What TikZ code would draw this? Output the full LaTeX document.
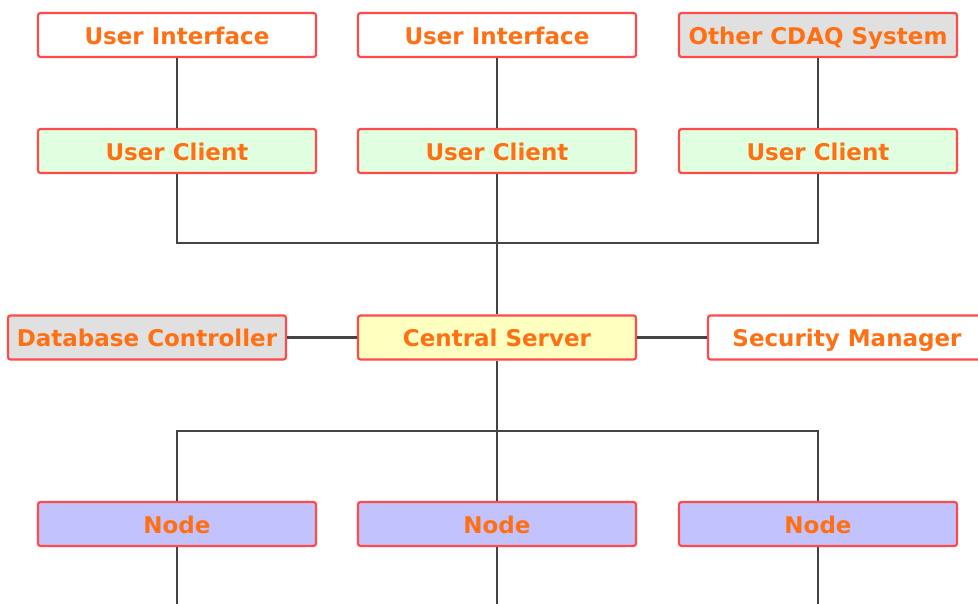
\documentclass[tikz,border=0pt]{standalone}
\usepackage{fontspec}
\setmainfont{DejaVu Sans}
\definecolor{txtorange}{HTML}{FF7014}
\definecolor{boxred}{HTML}{FF4A4A}
\definecolor{wire}{HTML}{444444}
\definecolor{clientgreen}{HTML}{E0FFE0}
\definecolor{extgray}{HTML}{E0E0E0}
\definecolor{serveryellow}{HTML}{FFFFC0}
\definecolor{nodeblue}{HTML}{C2C2FF}
\tikzset{
  unit/.style={draw=boxred, line width=2.2pt, rounded corners=2.5pt,
    minimum width=278pt, minimum height=44pt, inner sep=0pt,
    text height=23.8pt, text depth=5pt,
    text=txtorange, font=\fontsize{23}{25}\selectfont\bfseries},
  link/.style={draw=wire, line width=2.4pt},
}
\begin{document}
\begin{tikzpicture}[x=1pt,y=-1pt]
\useasboundingbox (0,0) rectangle (978,604);
% front ends
\node[unit, fill=white] (ui1) at (177,35) {User Interface};
\node[unit, fill=white] (ui2) at (497,35) {User Interface};
\node[unit, fill=extgray] (ext) at (818,35) {Other CDAQ System};
% clients
\node[unit, fill=clientgreen] (uc1) at (177,151) {User Client};
\node[unit, fill=clientgreen] (uc2) at (497,151) {User Client};
\node[unit, fill=clientgreen] (uc3) at (818,151) {User Client};
% server row
\node[unit, fill=extgray] (db) at (147,337.5) {Database Controller};
\node[unit, fill=serveryellow] (cs) at (497,337.5) {Central Server};
\node[unit, fill=white] (sm) at (847,337.5) {Security Manager};
% worker nodes
\node[unit, fill=nodeblue] (n1) at (177,524) {Node};
\node[unit, fill=nodeblue] (n2) at (497,524) {Node};
\node[unit, fill=nodeblue] (n3) at (818,524) {Node};
% bus junctions and open ends
\coordinate (topbus) at (497,243);
\coordinate (lowbus) at (497,431);
\coordinate (e1) at (177,604);
\coordinate (e2) at (497,604);
\coordinate (e3) at (818,604);
% wiring
\draw[link] (ui1) -- (uc1);
\draw[link] (ui2) -- (uc2);
\draw[link] (ext) -- (uc3);
\draw[link] (uc1) |- (topbus) -| (uc3);
\draw[link] (uc2) -- (cs);
\draw[link] (db) -- (cs);
\draw[link] (cs) -- (sm);
\draw[link] (n1) |- (lowbus) -| (n3);
\draw[link] (cs) -- (n2);
\draw[link] (n1) -- (e1);
\draw[link] (n2) -- (e2);
\draw[link] (n3) -- (e3);
\end{tikzpicture}
\end{document}
